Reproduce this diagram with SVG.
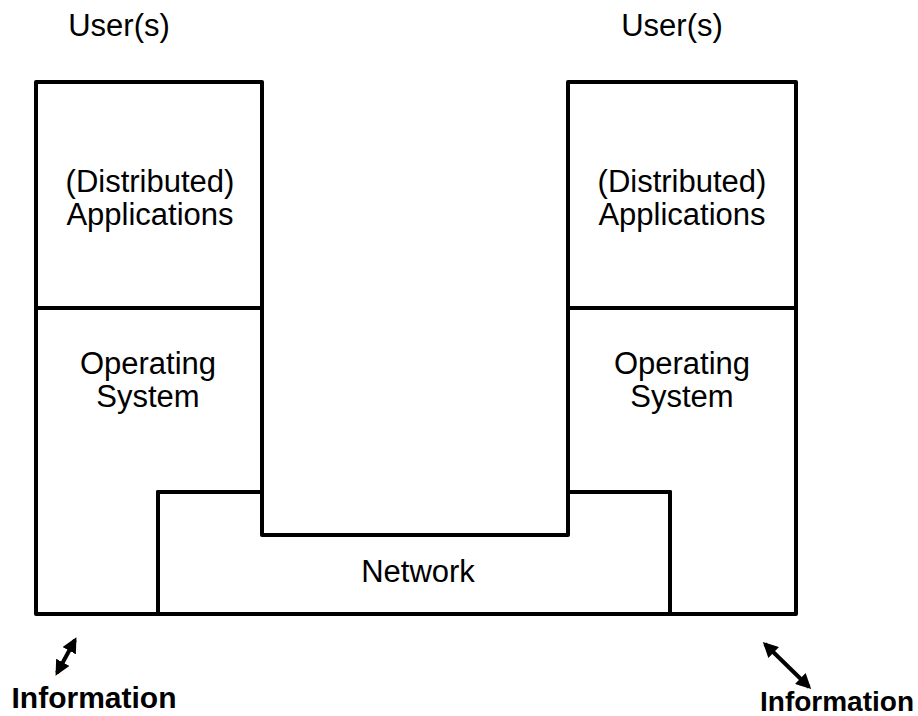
<svg xmlns="http://www.w3.org/2000/svg" width="918" height="716" viewBox="0 0 918 716">
<defs>
<marker id="ah" viewBox="0 0 10 10" refX="8" refY="5" markerWidth="3.8" markerHeight="3.8" orient="auto-start-reverse">
<path d="M0,0 L10,5 L0,10 z" fill="#000"/>
</marker>
</defs>
<style>
.ln{fill:none;stroke:#000;stroke-width:4;stroke-linejoin:round}
.t{font-family:"Liberation Sans",Arial,sans-serif;font-size:31px;fill:#000;text-anchor:middle}
.b{font-weight:bold;font-size:30px}
.b2{font-size:28px}
</style>
<rect width="918" height="716" fill="#fff"/>
<g id="left-apps">
<rect class="ln" x="36" y="82" width="226" height="226"/>
<text class="t" x="150" y="192">(Distributed)</text>
<text class="t" x="150" y="225">Applications</text>
</g>
<g id="left-os">
<path class="ln" d="M36,308 V614 H158 V492 H262 V308"/>
<text class="t" x="148" y="374">Operating</text>
<text class="t" x="148" y="407">System</text>
</g>
<g id="right-apps">
<rect class="ln" x="568" y="82" width="228" height="226"/>
<text class="t" x="682" y="192">(Distributed)</text>
<text class="t" x="682" y="225">Applications</text>
</g>
<g id="right-os">
<path class="ln" d="M568,308 V492 H670 V614 H796 V308"/>
<text class="t" x="682" y="374">Operating</text>
<text class="t" x="682" y="407">System</text>
</g>
<g id="network">
<path class="ln" d="M158,614 V492 H262 V535 H568 V492 H670 V614 Z"/>
<text class="t" x="418" y="582">Network</text>
</g>
<g id="users">
<text class="t" x="119" y="36">User(s)</text>
<text class="t" x="672" y="36">User(s)</text>
</g>
<g id="info">
<text class="t b" x="94" y="708">Information</text>
<text class="t b b2" x="837" y="711">Information</text>
</g>
<g id="connectors">
<line x1="57" y1="673" x2="75" y2="640" stroke="#000" stroke-width="4" marker-start="url(#ah)" marker-end="url(#ah)"/>
<line x1="765" y1="644" x2="809" y2="687" stroke="#000" stroke-width="4" marker-start="url(#ah)" marker-end="url(#ah)"/>
</g>
</svg>
